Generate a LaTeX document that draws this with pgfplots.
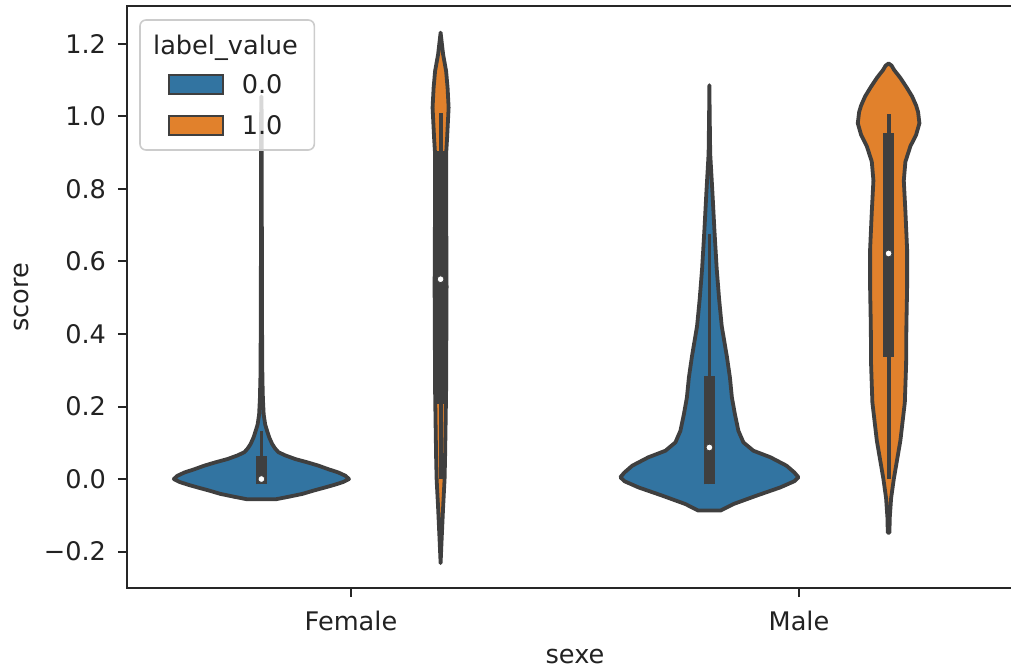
\documentclass[border=0pt]{standalone}
\usepackage{fontspec}
\setmainfont{DejaVu Sans}
\usepackage{pgfplots}
\pgfplotsset{compat=1.18}
\definecolor{vblue}{HTML}{3274A1}
\definecolor{vorange}{HTML}{E1812C}
\definecolor{vgray}{HTML}{3F3F3F}
\definecolor{txt}{HTML}{222222}
\begin{document}
\fontsize{12.8}{15}\selectfont
\begin{tikzpicture}
\begin{axis}[
  name=ax,
  scale only axis, width=448pt, height=290.75pt,
  xmin=-0.5, xmax=1.5, ymin=-0.3005, ymax=1.303,
  xtick={0,1}, xticklabels={Female,Male},
  ytick={-0.2,0,0.2,0.4,0.6,0.8,1.0,1.2},
  yticklabels={−0.2,0.0,0.2,0.4,0.6,0.8,1.0,1.2},
  tick align=outside, major tick length=4.5pt,
  xtick pos=lower, ytick pos=left,
  tick style={black!85, line width=1pt},
  axis line style={black!85, line width=1pt},
  tick label style={font=\fontsize{12.8}{15}\selectfont, text=txt},
  yticklabel style={anchor=east, inner sep=0pt, xshift=-5.8pt},
  xticklabel style={anchor=base, inner sep=0pt, yshift=-16.5pt},
  xlabel={sexe}, ylabel={score},
  label style={font=\fontsize{12.8}{15}\selectfont, text=txt},
  xlabel style={at={(axis description cs:0.5,-0.1295)}, anchor=base, inner sep=0pt},
  ylabel style={at={(axis description cs:-0.110,0.5)}, anchor=base},
]
% Female, label 0.0
\addplot[fill=vblue, draw=vgray, line width=1.9pt, line join=round] coordinates {
(-0.2,1.055)
(-0.1993,1.0) (-0.1991,0.8) (-0.1989,0.6) (-0.1987,0.45) (-0.1982,0.35) (-0.1978,0.28) (-0.1966,0.22) (-0.1949,0.178) (-0.1915,0.15) (-0.1873,0.133) (-0.1826,0.115) (-0.1761,0.097) (-0.1699,0.085) (-0.1620,0.074) (-0.1464,0.065) (-0.1241,0.055) (-0.0973,0.046) (-0.0728,0.037) (-0.0504,0.027) (-0.0281,0.018) (-0.0125,0.009) (-0.0045,0.0) (-0.0170,-0.008) (-0.0370,-0.016) (-0.0571,-0.023) (-0.0839,-0.032) (-0.1085,-0.041) (-0.1397,-0.049) (-0.1687,-0.056)
(-0.2313,-0.056) (-0.2603,-0.049) (-0.2915,-0.041) (-0.3161,-0.032) (-0.3429,-0.023) (-0.3630,-0.016) (-0.3830,-0.008) (-0.3955,0.0) (-0.3875,0.009) (-0.3719,0.018) (-0.3496,0.027) (-0.3272,0.037) (-0.3027,0.046) (-0.2759,0.055) (-0.2536,0.065) (-0.2380,0.074) (-0.2301,0.085) (-0.2239,0.097) (-0.2174,0.115) (-0.2127,0.133) (-0.2085,0.15) (-0.2051,0.178) (-0.2034,0.22) (-0.2022,0.28) (-0.2018,0.35) (-0.2013,0.45) (-0.2011,0.6) (-0.2009,0.8) (-0.2007,1.0)
} -- cycle;
\addplot[vgray, line width=1.9pt] coordinates {(-0.2,-0.015) (-0.2,0.133)};
\addplot[vgray, line width=5.7pt] coordinates {(-0.2,-0.015) (-0.2,0.064)};
% Female, label 1.0
\addplot[fill=vorange, draw=vgray, line width=1.9pt, line join=round] coordinates {
(0.2,1.231) (0.2056,1.171) (0.2123,1.125) (0.2156,1.079) (0.2179,1.024) (0.2145,0.94) (0.2123,0.896) (0.2123,0.8) (0.2134,0.53) (0.2123,0.244) (0.2112,0.152) (0.2100,0.06) (0.2089,0.0) (0.2056,-0.078) (0.2022,-0.17) (0.2,-0.232)
(0.1978,-0.17) (0.1944,-0.078) (0.1911,0.0) (0.1900,0.06) (0.1888,0.152) (0.1877,0.244) (0.1866,0.53) (0.1877,0.8) (0.1877,0.896) (0.1855,0.94) (0.1821,1.024) (0.1844,1.079) (0.1877,1.125) (0.1944,1.171)
} -- cycle;
\addplot[vgray, line width=1.9pt] coordinates {(0.2,0.0) (0.2,1.01)};
\addplot[vgray, line width=5.7pt] coordinates {(0.2,0.207) (0.2,0.905)};
% Male, label 0.0
\addplot[fill=vblue, draw=vgray, line width=1.9pt, line join=round] coordinates {
(0.8,1.086) (0.8007,1.0) (0.8018,0.897) (0.8067,0.791) (0.8112,0.686) (0.8163,0.58) (0.8217,0.496) (0.8275,0.422) (0.8391,0.337) (0.8458,0.28) (0.8502,0.225) (0.8569,0.179) (0.8647,0.133) (0.8759,0.101) (0.8982,0.078) (0.9362,0.06) (0.9719,0.037) (0.9897,0.018) (0.9987,0.005) (0.9897,-0.006) (0.9585,-0.023) (0.9049,-0.046) (0.8536,-0.069) (0.8313,-0.083) (0.8246,-0.087)
(0.7754,-0.087) (0.7687,-0.083) (0.7464,-0.069) (0.6951,-0.046) (0.6415,-0.023) (0.6103,-0.006) (0.6013,0.005) (0.6103,0.018) (0.6281,0.037) (0.6638,0.06) (0.7018,0.078) (0.7241,0.101) (0.7353,0.133) (0.7431,0.179) (0.7498,0.225) (0.7542,0.28) (0.7609,0.337) (0.7725,0.422) (0.7783,0.496) (0.7837,0.58) (0.7888,0.686) (0.7933,0.791) (0.7982,0.897) (0.7993,1.0)
} -- cycle;
\addplot[vgray, line width=1.9pt] coordinates {(0.8,-0.015) (0.8,0.675)};
\addplot[vgray, line width=5.7pt] coordinates {(0.8,-0.015) (0.8,0.285)};
% Male, label 1.0
\addplot[fill=vorange, draw=vgray, line width=1.9pt, line join=round] coordinates {
(1.2,1.146) (1.2067,1.14) (1.2123,1.128) (1.2257,1.107) (1.2402,1.08) (1.2525,1.055) (1.2614,1.03) (1.2658,1.012) (1.2688,0.981) (1.2614,0.949) (1.2487,0.918) (1.2375,0.875) (1.2339,0.823) (1.2375,0.738) (1.2413,0.633) (1.2413,0.527) (1.2397,0.422) (1.2391,0.316) (1.2362,0.211) (1.2263,0.106) (1.2116,0.0) (1.2056,-0.053) (1.2027,-0.105) (1.2018,-0.148)
(1.1982,-0.148) (1.1973,-0.105) (1.1944,-0.053) (1.1884,0.0) (1.1737,0.106) (1.1638,0.211) (1.1609,0.316) (1.1603,0.422) (1.1587,0.527) (1.1587,0.633) (1.1625,0.738) (1.1661,0.823) (1.1625,0.875) (1.1513,0.918) (1.1386,0.949) (1.1312,0.981) (1.1342,1.012) (1.1386,1.03) (1.1475,1.055) (1.1598,1.08) (1.1743,1.107) (1.1877,1.128) (1.1933,1.14)
} -- cycle;
\addplot[vgray, line width=1.9pt] coordinates {(1.2,0.0) (1.2,1.007)};
\addplot[vgray, line width=5.7pt] coordinates {(1.2,0.337) (1.2,0.955)};
% medians
\addplot[only marks, mark=*, mark size=1.7pt, mark options={fill=white, draw=vgray, line width=0.4pt}]
  coordinates {(-0.2,0.0) (0.2,0.551) (0.8,0.087) (1.2,0.622)};
\end{axis}
% legend
\draw[draw=black!20, line width=0.8pt, fill=white, fill opacity=0.8, rounded corners=3pt]
  ([xshift=6.5pt,yshift=-6.75pt]ax.north west) rectangle ([xshift=93.65pt,yshift=-71.75pt]ax.north west);
\node[anchor=base, inner sep=0pt, text=txt] at ([xshift=49.25pt,yshift=-24.25pt]ax.north west) {label\_value};
\draw[fill=vblue, draw=vgray, line width=0.9pt] ([xshift=21.15pt,yshift=-34.25pt]ax.north west) rectangle ([xshift=48.15pt,yshift=-43.75pt]ax.north west);
\node[anchor=base west, inner sep=0pt, text=txt] at ([xshift=57.2pt,yshift=-43.75pt]ax.north west) {0.0};
\draw[fill=vorange, draw=vgray, line width=0.9pt] ([xshift=21.15pt,yshift=-54.75pt]ax.north west) rectangle ([xshift=48.15pt,yshift=-64.25pt]ax.north west);
\node[anchor=base west, inner sep=0pt, text=txt] at ([xshift=57.2pt,yshift=-64.25pt]ax.north west) {1.0};
\pgfresetboundingbox
\path[use as bounding box] ([xshift=-63.5pt,yshift=-41pt]ax.south west) rectangle ([xshift=-6pt,yshift=3.25pt]ax.north east);
\end{tikzpicture}
\end{document}
